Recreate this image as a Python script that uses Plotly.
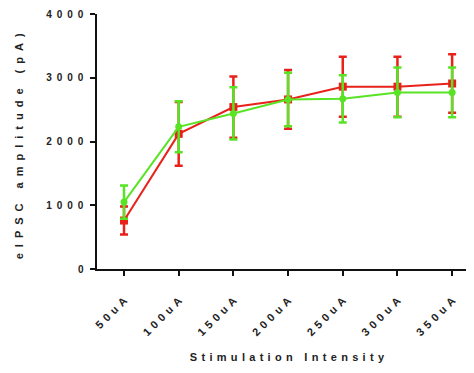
import plotly.graph_objects as go

categories = ["50uA", "100uA", "150uA", "200uA", "250uA", "300uA", "350uA"]
red_mean = [760, 2120, 2540, 2660, 2860, 2860, 2910]
red_err = [220, 500, 480, 460, 470, 470, 460]
green_mean = [1050, 2230, 2440, 2660, 2670, 2770, 2770]
green_err = [260, 400, 410, 420, 370, 390, 390]
y_ticks = [0, 1000, 2000, 3000, 4000]

RED = "#e8211a"
GREEN = "#58e424"

x_idx = list(range(len(categories)))

fig = go.Figure()
fig.add_trace(go.Scatter(
    x=x_idx, y=red_mean, mode="lines+markers",
    line=dict(color=RED, width=2),
    marker=dict(symbol="square", size=8, color=RED),
    error_y=dict(type="data", array=red_err, visible=True, color=RED, thickness=2.5, width=4),
    showlegend=False,
))
fig.add_trace(go.Scatter(
    x=x_idx, y=green_mean, mode="lines+markers",
    line=dict(color=GREEN, width=2),
    marker=dict(symbol="circle", size=7, color=GREEN),
    error_y=dict(type="data", array=green_err, visible=True, color=GREEN, thickness=2.5, width=4),
    showlegend=False,
))

fig.update_layout(
    width=474, height=373,
    margin=dict(l=89, r=8, t=6, b=112, autoexpand=False),
    paper_bgcolor="white", plot_bgcolor="white",
    font=dict(family="Liberation Sans, Arial, sans-serif", color="#222222"),
)
fig.update_xaxes(
    range=[-0.494, 6.4], automargin=False,
    tickmode="array", tickvals=x_idx, ticktext=categories,
    tickangle=-45, ticklabelstandoff=14,
    tickfont=dict(size=11, weight="bold"),
    showline=True, linecolor="#111111", linewidth=2,
    ticks="outside", ticklen=5, tickwidth=2, tickcolor="#111111",
    showgrid=False, zeroline=False,
    title=dict(text="Stimulation Intensity", font=dict(size=11, weight="bold"), standoff=28),
)
fig.update_yaxes(
    range=[0, 4000], automargin=False,
    tickmode="array", tickvals=y_ticks, ticklabelstandoff=5,
    tickfont=dict(size=10, weight="bold"),
    showline=True, linecolor="#111111", linewidth=2,
    ticks="outside", ticklen=5, tickwidth=2, tickcolor="#111111",
    showgrid=False, zeroline=False,
    title=dict(text="eIPSC amplitude (pA)", font=dict(size=11, weight="bold"), standoff=35),
)

post = """
var gd = document.getElementById('{plot_id}');
function fix(sel, sp, extra){
  gd.querySelectorAll(sel).forEach(function(t){
    var b0 = t.getBBox();
    t.style.letterSpacing = sp + 'px';
    var b1 = t.getBBox();
    var a = t.getAttribute('text-anchor') || t.style.textAnchor || 'start';
    var shift = 0;
    if (a === 'end') shift = (b0.x + b0.width) - (b1.x + b1.width) + sp;
    else if (a === 'middle') shift = (b0.x + b0.width/2) - (b1.x + b1.width/2) + sp/2;
    var x = parseFloat(t.getAttribute('x')) || 0;
    t.setAttribute('x', x + shift + (extra || 0));
  });
}
fix('.xtick text', 4.2, 0);
fix('.ytick text', 5, 0);
fix('text.xtitle', 4.3, 1);
fix('text.ytitle', 6, -5);
"""

fig.write_html("out.html", post_script=post)
